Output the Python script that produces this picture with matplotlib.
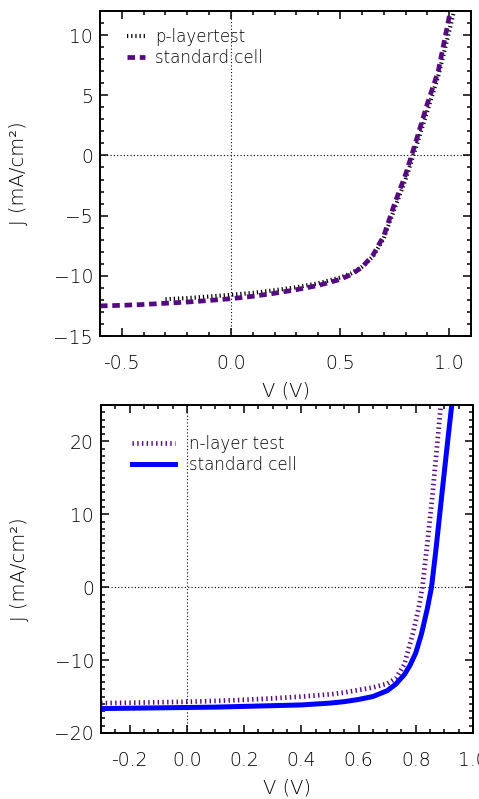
import numpy as np
import matplotlib
matplotlib.use("Agg")
import matplotlib.pyplot as plt
from matplotlib.ticker import MultipleLocator

# top panel: p-layer test vs standard cell
v_std_top = [-0.6, -0.5, -0.4, -0.3, -0.2, -0.1, 0.0, 0.1, 0.2, 0.3, 0.4, 0.5,
             0.55, 0.6, 0.65, 0.7, 0.75, 0.8, 0.85, 0.9, 0.95, 1.0, 1.02]
j_std_top = [-12.5, -12.45, -12.38, -12.28, -12.18, -12.05, -11.9, -11.7, -11.45,
             -11.15, -10.8, -10.3, -9.9, -9.3, -8.3, -6.7, -4.0, -1.6, 1.3, 4.3,
             7.0, 11.5, 13.3]
v_p = [-0.3, -0.2, -0.1, 0.0, 0.1, 0.2, 0.3, 0.4, 0.5, 0.55, 0.6, 0.65, 0.7,
       0.75, 0.8, 0.85, 0.9, 0.95, 1.0, 1.03]
j_p = [-11.95, -11.85, -11.72, -11.58, -11.42, -11.2, -10.95, -10.62, -10.15,
       -9.8, -9.25, -8.4, -6.9, -4.4, -2.0, 0.8, 3.7, 6.6, 10.3, 12.6]

# bottom panel: n-layer test vs standard cell
v_std_bot = [-0.3, -0.2, -0.1, 0.0, 0.1, 0.2, 0.3, 0.4, 0.5, 0.55, 0.6, 0.65,
             0.7, 0.73, 0.76, 0.78, 0.8, 0.82, 0.84, 0.855, 0.87, 0.89, 0.91, 0.93]
j_std_bot = [-16.65, -16.6, -16.55, -16.5, -16.45, -16.35, -16.25, -16.15, -15.9,
             -15.7, -15.4, -15.0, -14.2, -13.3, -12.0, -10.7, -9.0, -6.4, -3.0,
             0.0, 5.0, 12.3, 19.5, 26.5]
v_n = [-0.3, -0.2, -0.1, 0.0, 0.1, 0.2, 0.3, 0.4, 0.5, 0.55, 0.6, 0.65, 0.7,
       0.73, 0.76, 0.79, 0.81, 0.823, 0.84, 0.858, 0.872, 0.89]
j_n = [-15.9, -15.85, -15.78, -15.72, -15.6, -15.45, -15.25, -15.0, -14.7,
       -14.45, -14.1, -13.75, -13.25, -12.5, -10.6, -6.3, -2.9, 0.0, 5.9,
       12.5, 18.4, 26.0]

purple = '#560a82'
blue = '#0000ff'

plt.rcParams['font.family'] = ['DejaVu Sans']
plt.rcParams['font.weight'] = 'light'
plt.rcParams['axes.labelweight'] = 'light'
plt.rcParams['font.size'] = 12
plt.rcParams['text.color'] = 'black'

fig = plt.figure(figsize=(4.79, 7.99), dpi=100)
ax1 = fig.add_axes([100 / 479, 1 - 336 / 799, 371 / 479, 325 / 799])
ax2 = fig.add_axes([101 / 479, 1 - 733 / 799, 372 / 479, 328 / 799])


def style(ax):
    for s in ax.spines.values():
        s.set_linewidth(1.4)
    ax.tick_params(which='both', direction='in', top=True, right=True,
                   width=1.1, labelsize=13.5, labelcolor='black')
    ax.tick_params(which='major', length=5.5)
    ax.tick_params(which='minor', length=3)
    ax.tick_params(axis='x', pad=13)
    ax.tick_params(axis='y', pad=5)
    ax.axhline(0, color='k', lw=0.8, ls=(0, (1, 2)), zorder=0)
    ax.axvline(0, color='k', lw=0.8, ls=(0, (1, 2)), zorder=0)
    ax.set_xlabel('V (V)', fontsize=14, labelpad=6)
    ax.set_ylabel('J (mA/cm²)', fontsize=14, labelpad=18)


# top
ax1.plot(v_p, j_p, color='k', lw=3.0, dashes=(0.3, 0.7),
         dash_capstyle='butt', label='p-layertest')
ax1.plot(v_std_top, j_std_top, color=purple, lw=3.4, dashes=(1.6, 1.0),
         dash_capstyle='butt', label='standard cell')
ax1.set_xlim(-0.6, 1.1)
ax1.set_ylim(-15, 12)
ax1.xaxis.set_major_locator(MultipleLocator(0.5))
ax1.xaxis.set_minor_locator(MultipleLocator(0.1))
ax1.yaxis.set_major_locator(MultipleLocator(5))
ax1.yaxis.set_minor_locator(MultipleLocator(1))
ax1.xaxis.set_major_formatter(plt.FormatStrFormatter('%.1f'))
style(ax1)
ax1.legend(loc='upper left', frameon=False, fontsize=12, handlelength=1.1,
           handletextpad=0.6, borderaxespad=0.0, labelspacing=0.15,
           bbox_to_anchor=(0.055, 0.968))

# bottom
ax2.plot(v_n, j_n, color=purple, lw=3.4, dashes=(0.3, 0.7),
         dash_capstyle='butt', label='n-layer test')
ax2.plot(v_std_bot, j_std_bot, color=blue, lw=3.6, label='standard cell')
ax2.set_xlim(-0.3, 1.0)
ax2.set_ylim(-20, 25)
ax2.xaxis.set_major_locator(MultipleLocator(0.2))
ax2.xaxis.set_minor_locator(MultipleLocator(0.05))
ax2.yaxis.set_major_locator(MultipleLocator(10))
ax2.yaxis.set_minor_locator(MultipleLocator(1))
ax2.xaxis.set_major_formatter(plt.FormatStrFormatter('%.1f'))
style(ax2)
ax2.legend(loc='upper left', frameon=False, fontsize=12, handlelength=2.6,
           handletextpad=0.8, borderaxespad=0.0, labelspacing=0.2,
           bbox_to_anchor=(0.065, 0.93))

fig.savefig('out.png', dpi=100)
